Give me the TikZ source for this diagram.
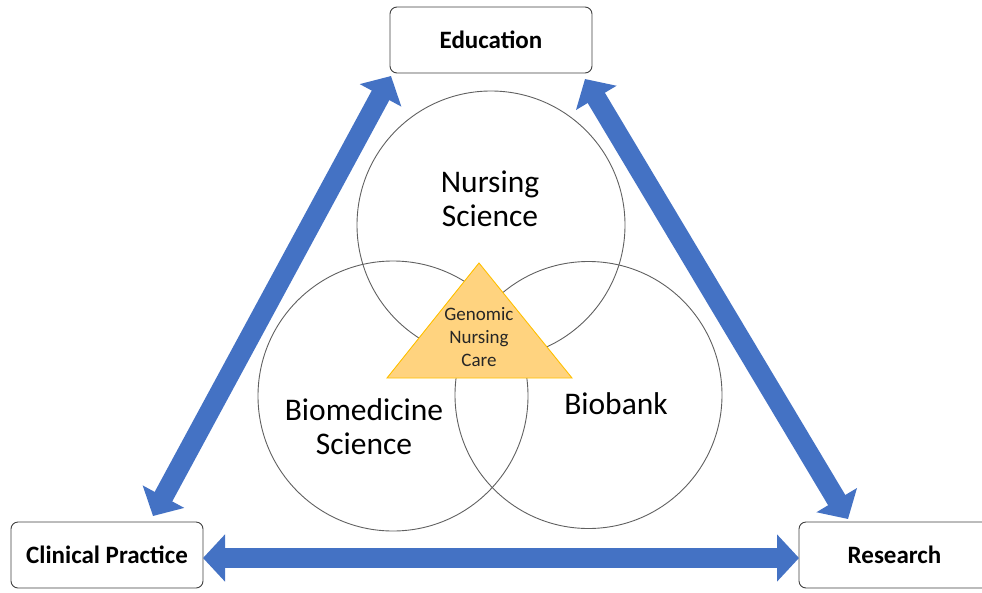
\documentclass[tikz,border=0pt]{standalone}
\usepackage{fontspec}
\setmainfont{Carlito}
\usetikzlibrary{arrows.meta}
\definecolor{arrblue}{HTML}{4472C4}
\definecolor{trifill}{HTML}{FFD37F}
\definecolor{triline}{HTML}{FFC000}
\definecolor{circline}{HTML}{606060}
\tikzset{
  box/.style={draw=black!75, line width=0.9pt, rounded corners=7pt, fill=white,
    font=\bfseries\fontsize{25}{29}\selectfont, minimum height=66pt, inner sep=0pt},
  circ/.style={draw=circline, line width=0.9pt, circle, inner sep=0pt},
  bigtext/.style={font=\fontsize{31.5}{34}\selectfont, align=center, inner sep=0pt},
  smalltext/.style={font=\fontsize{19}{23}\selectfont, align=center, inner sep=0pt, text=black!85},
  dblarrow/.style={draw=arrblue, line width=20pt,
    {Triangle[length=22pt,width=46pt]}-{Triangle[length=22pt,width=46pt]}},
  tri/.style={fill=trifill, draw=triline, line width=0.9pt, line join=miter}
}
\begin{document}
\begin{tikzpicture}[x=1pt,y=-1pt]
\useasboundingbox (0,0) rectangle (982,592);
% circles
\node[circ, minimum size=268pt] (ns) at (491,225) {};
\node[circ, minimum size=270pt] (bm) at (393,396) {};
\node[circ, minimum size=267pt] (bb) at (588.5,395) {};
% circle texts
\node[bigtext] (nst) at (490,199) {Nursing\\Science};
\node[bigtext] (bmt) at (364,427) {Biomedicine\\Science};
\node[bigtext] (bbt) at (616,404) {Biobank};
% triangle
\coordinate (ta) at (479,263);
\coordinate (tl) at (387,378);
\coordinate (tr) at (572,378);
\draw[tri] (ta) -- (tl) -- (tr) -- cycle;
\node[smalltext] (gnc) at (479,337) {Genomic\\Nursing\\Care};
% boxes
\node[box, minimum width=202pt] (edu) at (491,40) {Education};
\node[box, minimum width=192pt] (cp) at (107,555) {Clinical Practice};
\node[box, minimum width=191pt] (res) at (894.5,555) {Research};
% arrow end points
\coordinate (la) at (391,76);
\coordinate (lb) at (153,516);
\coordinate (ra) at (585,79);
\coordinate (rb) at (848,519);
\coordinate (ba) at (203,558);
\coordinate (bb2) at (799,558);
\draw[dblarrow] (la) -- (lb);
\draw[dblarrow] (ra) -- (rb);
\draw[dblarrow] (ba) -- (bb2);
\end{tikzpicture}
\end{document}
